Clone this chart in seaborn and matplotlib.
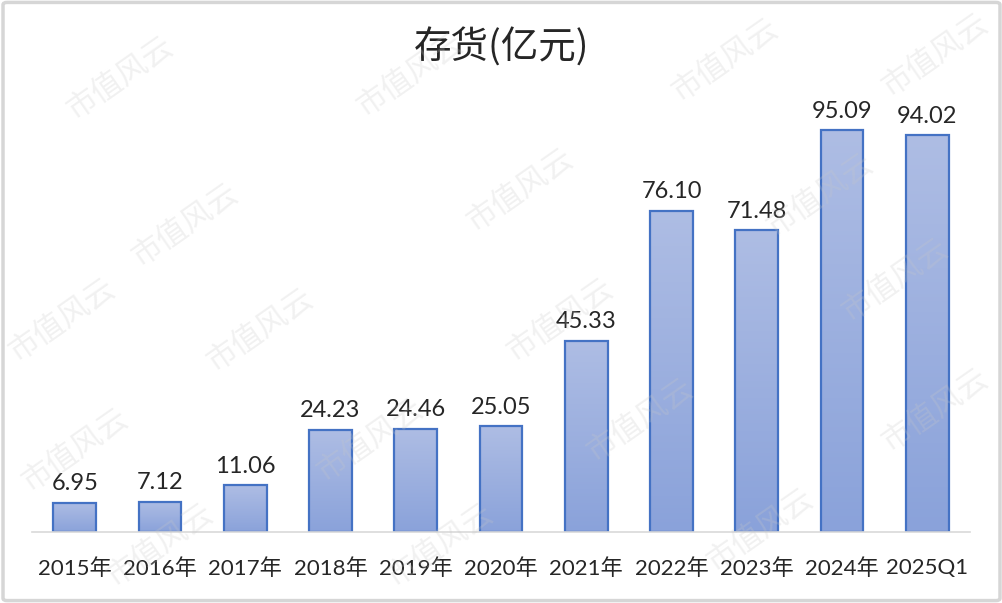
import numpy as np
import matplotlib
matplotlib.use('Agg')
import matplotlib.pyplot as plt
import seaborn as sns
from matplotlib.colors import LinearSegmentedColormap
from matplotlib.patches import FancyBboxPatch

# data
years = ['2015年', '2016年', '2017年', '2018年', '2019年', '2020年',
         '2021年', '2022年', '2023年', '2024年', '2025Q1']
inventory = [6.95, 7.12, 11.06, 24.23, 24.46, 25.05, 45.33, 76.10, 71.48, 95.09, 94.02]
title = '存货(亿元)'
watermark = '市值风云'

sns.set_theme(style='white')
plt.rcParams['font.family'] = ['Lato', 'Noto Sans CJK SC', 'DejaVu Sans']

fig = plt.figure(figsize=(10.03, 6.03), dpi=100)
ax = fig.add_axes([0.032, 0.118, 0.935, 0.70])

# faint diagonal watermark
wm_pos = [(120, 78), (410, 75), (725, 60), (935, 55),
          (185, 225), (520, 190), (820, 195),
          (62, 320), (260, 330), (560, 320), (895, 280),
          (75, 450), (370, 440), (640, 420), (935, 410),
          (160, 545), (440, 545), (760, 530)]
for px, py in wm_pos:
    fig.text(px / 1003, 1 - py / 603, watermark, rotation=35, fontsize=22,
             color='#C8C8C8', alpha=0.25, ha='center', va='center',
             family=['Noto Sans CJK SC'], fontweight='light', zorder=5)

sns.barplot(x=years, y=inventory, ax=ax, color='#9DB0E0', width=0.5,
            edgecolor='#4472C4', linewidth=1.6, saturation=1)

cmap = LinearSegmentedColormap.from_list('bar', ['#8AA2DA', '#AEBDE4'])
grad = np.linspace(0, 1, 256).reshape(-1, 1)
for p in ax.patches:
    x, w, h = p.get_x(), p.get_width(), p.get_height()
    im = ax.imshow(grad, extent=[x, x + w, 0, h], origin='lower', aspect='auto',
                   cmap=cmap, zorder=1)
    im.set_clip_path(p)
    p.set_facecolor('none')
    p.set_zorder(2)

for i, v in enumerate(inventory):
    ax.annotate(f'{v:.2f}', (i, v), xytext=(0, 6), textcoords='offset points',
                ha='center', va='bottom', fontsize=17, color='#262626')

ax.set_xlim(-0.5, len(years) - 0.5)
ax.set_ylim(0, 100)
ax.set_yticks([])
ax.set_ylabel('')
ax.set_facecolor('none')
for s in ['top', 'right', 'left']:
    ax.spines[s].set_visible(False)
ax.spines['bottom'].set_color('#D9D9D9')
ax.spines['bottom'].set_linewidth(1.2)
ax.tick_params(axis='x', length=0, pad=19, labelsize=16, labelcolor='#262626')

fig.text(0.5, 1 - 48 / 603, title, ha='center', va='center', fontsize=27,
         color='#262626', family=['Noto Sans CJK SC', 'DejaVu Sans'])

border = FancyBboxPatch((0.003, 0.004), 0.994, 0.992, transform=fig.transFigure,
                        boxstyle='round,pad=0,rounding_size=0.004',
                        facecolor='none', edgecolor='#D6D6D6', linewidth=2.5)
fig.patches.append(border)

fig.savefig('out.png', dpi=100)
